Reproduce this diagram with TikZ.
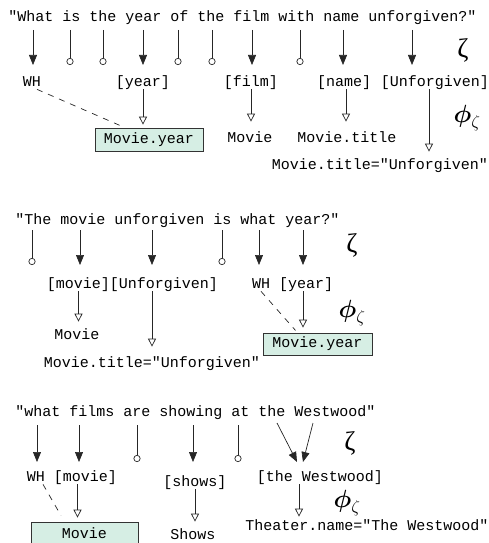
\documentclass[tikz,border=0pt]{standalone}
\usepackage{amsmath}
\usepackage{fontspec}
\setmonofont{Liberation Mono}
\newfontfamily\greekfont{Liberation Serif}
\usetikzlibrary{arrows.meta}
\definecolor{tablegreen}{RGB}{214,238,228}
\begin{document}
\begin{tikzpicture}[x=1pt, y=-1pt, font=\ttfamily\fontsize{15}{15}\selectfont, line width=0.7pt,
        sentence/.style={anchor=west, inner sep=0pt},
        chunk/.style={inner sep=0pt, text height=11pt, text depth=3pt},
        schema/.style={draw=black!80, fill=tablegreen, inner sep=0pt, minimum width=108pt, minimum height=23pt},
        zetamark/.style={font=\greekfont\fontsize{27}{27}\selectfont},
        phimark/.style={font=\fontsize{24}{24}\selectfont},
        tokarrow/.style={draw=black!85, -{Triangle[width=8pt,length=10pt]}},
        droparrow/.style={draw=black!85, -{Circle[open,length=7pt]}},
        maparrow/.style={draw=black!85, -{Triangle[open,width=8pt,length=8pt]}},
        whlink/.style={draw=black!85, dash pattern=on 6pt off 6pt}]
    \useasboundingbox (0,0) rectangle (489,543);

    \node[sentence] (q1) at (8,18) {"What is the year of the film with name unforgiven?"};
    \coordinate (a1) at (33,30);
    \coordinate (a2) at (70,30);
    \coordinate (a3) at (103,30);
    \coordinate (a4) at (143,30);
    \coordinate (a5) at (178,30);
    \coordinate (a6) at (212,30);
    \coordinate (a7) at (252,30);
    \coordinate (a8) at (300,30);
    \coordinate (a9) at (343,30);
    \coordinate (a10) at (412,30);
    \coordinate (r1) at (0,65);

    \node[chunk] (wh1) at (32,82) {WH};
    \node[chunk] (year1) at (143,82) {[year]};
    \node[chunk] (film1) at (251,82) {[film]};
    \node[chunk] (name1) at (344,82) {[name]};
    \node[chunk] (unf1) at (435,82) {[Unforgiven]};

    \node[schema] (box1) at (149,139.5) {Movie.year};
    \node[chunk] (movie1) at (250,138) {Movie};
    \node[chunk] (title1) at (347,138) {Movie.title};
    \node[chunk] (titleval1) at (380,165) {Movie.title="Unforgiven"};

    \node[zetamark] (zeta1) at (463,50) {ζ};
    \node[phimark] (phi1) at (467,118) {$\boldsymbol{\phi}_\zeta$};

    \draw[tokarrow] (a1) -- (a1 |- r1);
    \draw[droparrow] (a2) -- (a2 |- r1);
    \draw[droparrow] (a3) -- (a3 |- r1);
    \draw[tokarrow] (a4) -- (a4 |- r1);
    \draw[droparrow] (a5) -- (a5 |- r1);
    \draw[droparrow] (a6) -- (a6 |- r1);
    \draw[tokarrow] (a7) -- (a7 |- r1);
    \draw[droparrow] (a8) -- (a8 |- r1);
    \draw[tokarrow] (a9) -- (a9 |- r1);
    \draw[tokarrow] (a10) -- (a10 |- r1);

    \draw[maparrow, shorten >=3pt] (year1.south) -- (year1.south |- box1.north);
    \draw[maparrow, shorten >=9pt] (film1.south) -- (film1.south |- movie1.north);
    \draw[maparrow, shorten >=9pt] ([xshift=2pt]name1.south) -- ([xshift=2pt]name1.south |- title1.north);
    \draw[maparrow, shorten >=6pt] ([xshift=-6pt]unf1.south) -- ([xshift=-6pt]unf1.south |- titleval1.north);
    \draw[whlink] ([xshift=5pt]wh1.south) -- ([xshift=-24pt]box1.north);

    \node[sentence] (q2) at (15,221) {"The movie unforgiven is what year?"};
    \coordinate (b1) at (32,230);
    \coordinate (b2) at (80,230);
    \coordinate (b3) at (152,230);
    \coordinate (b4) at (222,230);
    \coordinate (b5) at (259,230);
    \coordinate (b6) at (303,230);
    \coordinate (r2) at (0,265);

    \node[chunk] (movie2l) at (78.5,284) {[movie]};
    \node[chunk] (unf2) at (164,284) {[Unforgiven]};
    \node[chunk] (wh2) at (261,284) {WH};
    \node[chunk] (year2) at (306,284) {[year]};

    \node[chunk] (movie2) at (77,335) {Movie};
    \node[chunk] (titleval2) at (152,363) {Movie.title="Unforgiven"};
    \node[schema, minimum width=109pt, minimum height=22pt] (box2) at (317.5,344) {Movie.year};

    \node[zetamark] (zeta2) at (352,245) {ζ};
    \node[phimark] (phi2) at (352,313) {$\boldsymbol{\phi}_\zeta$};

    \draw[droparrow] (b1) -- (b1 |- r2);
    \draw[tokarrow] (b2) -- (b2 |- r2);
    \draw[tokarrow] (b3) -- (b3 |- r2);
    \draw[droparrow] (b4) -- (b4 |- r2);
    \draw[tokarrow] (b5) -- (b5 |- r2);
    \draw[tokarrow] (b6) -- (b6 |- r2);

    \draw[maparrow, shorten >=6pt] (movie2l.south) -- (movie2l.south |- movie2.north);
    \draw[maparrow, shorten >=9pt] ([xshift=-12pt]unf2.south) -- ([xshift=-12pt]unf2.south |- titleval2.north);
    \draw[maparrow, shorten >=5pt] ([xshift=-3pt]year2.south) -- ([xshift=-3pt]year2.south |- box2.north);
    \draw[whlink, shorten >=3pt] (wh2.south) -- ([xshift=-20pt]box2.north);

    \node[sentence] (q3) at (15,413) {"what films are showing at the Westwood"};
    \coordinate (c1) at (37,425);
    \coordinate (c2) at (79,425);
    \coordinate (c3) at (137,425);
    \coordinate (c4) at (193,425);
    \coordinate (c5) at (238,425);
    \coordinate (c6) at (277,423);
    \coordinate (c7) at (313,423);
    \coordinate (r3) at (0,462);
    \coordinate (e1) at (297,462);
    \coordinate (e2) at (303,462);

    \node[chunk] (wh3) at (36,477) {WH};
    \node[chunk] (movie3l) at (85.5,477) {[movie]};
    \node[chunk] (shows3l) at (195,482) {[shows]};
    \node[chunk] (west3) at (320,477) {[the Westwood]};

    \node[schema, minimum width=107pt] (box3) at (84.5,533.5) {Movie};
    \node[chunk] (shows3) at (193,535) {Shows};
    \node[chunk] (theater3) at (367,526) {Theater.name="The Westwood"};

    \node[zetamark] (zeta3) at (350,443) {ζ};
    \node[phimark] (phi3) at (347,503) {$\boldsymbol{\phi}_\zeta$};

    \draw[tokarrow] (c1) -- (c1 |- r3);
    \draw[tokarrow] (c2) -- (c2 |- r3);
    \draw[droparrow] (c3) -- (c3 |- r3);
    \draw[tokarrow] (c4) -- (c4 |- r3);
    \draw[droparrow] (c5) -- (c5 |- r3);
    \draw[tokarrow] (c6) -- (e1);
    \draw[tokarrow] (c7) -- (e2);

    \draw[maparrow, shorten >=4pt] ([xshift=-8pt]movie3l.south) -- ([xshift=-8pt]movie3l.south |- box3.north);
    \draw[maparrow, shorten >=6pt] (shows3l.south) -- (shows3l.south |- shows3.north);
    \draw[maparrow, shorten >=2pt] ([xshift=-21pt]west3.south) -- ([xshift=-21pt]west3.south |- theater3.north);
    \draw[whlink, shorten >=7pt] ([xshift=7pt]wh3.south) -- ([xshift=-20pt]box3.north);
\end{tikzpicture}
\end{document}
